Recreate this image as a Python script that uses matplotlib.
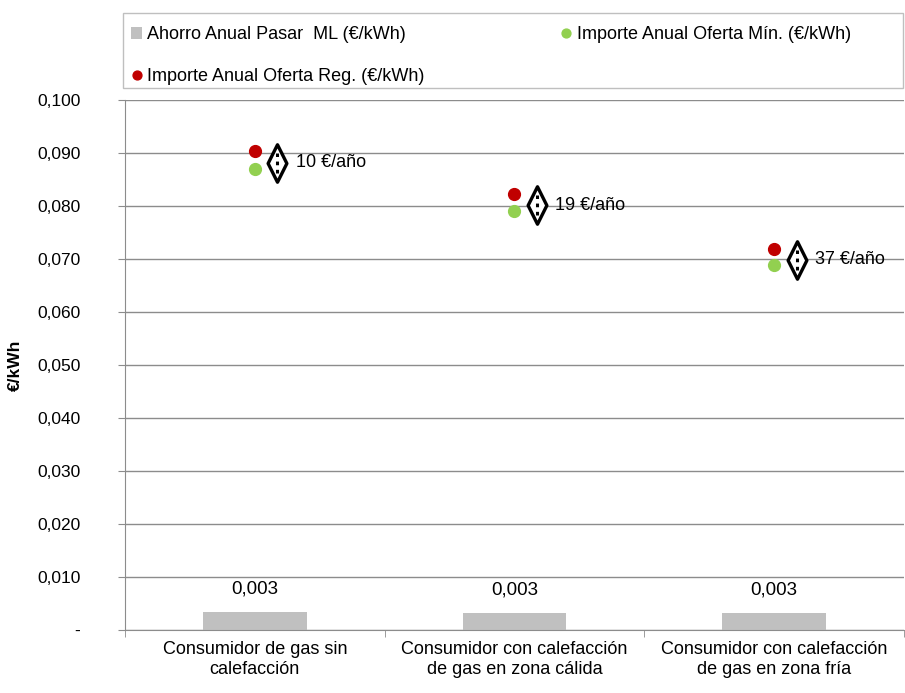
import numpy as np
import matplotlib.pyplot as plt
from matplotlib.path import Path
from matplotlib.patches import Rectangle

# data
categorias = ["Consumidor de gas sin\ncalefacción",
              "Consumidor con calefacción\nde gas en zona cálida",
              "Consumidor con calefacción\nde gas en zona fría"]
ahorro = [0.0034, 0.0032, 0.0032]
ahorro_txt = ["0,003", "0,003", "0,003"]
oferta_min = [0.0869, 0.0791, 0.0688]
oferta_reg = [0.0904, 0.0822, 0.0719]
ahorro_anual = ["10 €/año", "19 €/año", "37 €/año"]
y_ticks = [0.0, 0.01, 0.02, 0.03, 0.04, 0.05, 0.06, 0.07, 0.08, 0.09, 0.10]
y_labels = ["-", "0,010", "0,020", "0,030", "0,040", "0,050", "0,060",
            "0,070", "0,080", "0,090", "0,100"]

plt.rcParams['font.family'] = ['Liberation Sans', 'DejaVu Sans']
plt.rcParams['font.size'] = 11

fig = plt.figure(figsize=(9.05, 6.93), dpi=100)
ax = fig.add_axes([0.138, 0.091, 0.861, 0.765])

x = np.arange(len(categorias))

ax.set_axisbelow(True)
ax.yaxis.grid(True, color="#8c8c8c", linewidth=1)

ax.bar(x, ahorro, width=0.4, color="#c0c0c0", zorder=2,
       label="Ahorro Anual Pasar  ML (€/kWh)")
for xi, h, t in zip(x, ahorro, ahorro_txt):
    ax.text(xi, h + 0.0027, t, ha="center", va="bottom", fontsize=13.5)

ax.plot(x, oferta_min, "o", color="#92d050", markersize=8.5, zorder=4,
        linestyle="none", label="Importe Anual Oferta Mín. (€/kWh)")
ax.plot(x, oferta_reg, "o", color="#c00000", markersize=8.5, zorder=4,
        linestyle="none", label="Importe Anual Oferta Reg. (€/kWh)")

# diamond markers with dotted line showing the difference
diamond = Path([(0, 1), (0.5, 0), (0, -1), (-0.5, 0), (0, 1)],
               [Path.MOVETO, Path.LINETO, Path.LINETO, Path.LINETO, Path.CLOSEPOLY])
xd = x + 0.087
mid = [(a + b) / 2 - 0.0005 for a, b in zip(oferta_min, oferta_reg)]
ax.plot(xd, mid, linestyle="none", marker=diamond, markersize=27,
        markerfacecolor="white", markeredgecolor="black", markeredgewidth=2.4, zorder=5)
ax.vlines(xd, [m - 0.0019 for m in mid], [m + 0.0019 for m in mid], colors="black",
          linestyles=(0, (1.2, 1.5)), linewidth=2.2, zorder=6)
for xi, yi, t in zip(xd, mid, ahorro_anual):
    ax.text(xi + 0.07, yi, t, ha="left", va="center", fontsize=13)

ax.set_xlim(-0.5, 2.5)
ax.set_ylim(0, 0.1)
ax.set_yticks(y_ticks)
ax.set_yticklabels(y_labels, fontsize=12.5)
ax.set_xticks(x)
ax.set_xticklabels(categorias, fontsize=13)
ax.tick_params(axis="x", length=0, pad=8)
ax.set_xticks([-0.5, 0.5, 1.5, 2.5], minor=True)
ax.tick_params(axis="x", which="minor", length=5, color="#8c8c8c", direction="out")
ax.tick_params(axis="y", length=5, color="#8c8c8c", direction="out", pad=27)
ax.set_ylabel("€/kWh", fontweight="bold", fontsize=12.5)
ax.yaxis.set_label_coords(-0.131, 0.5)

for s in ["top", "right"]:
    ax.spines[s].set_visible(False)
for s in ["left", "bottom"]:
    ax.spines[s].set_color("#8c8c8c")

# legend box
fig.patches.append(Rectangle((0.136, 0.873), 0.862, 0.108, transform=fig.transFigure,
                             facecolor="white", edgecolor="#bfbfbf", linewidth=1, zorder=0))

handles, labels = ax.get_legend_handles_labels()
lab_order = ["Ahorro Anual Pasar  ML (€/kWh)",
             "Importe Anual Oferta Reg. (€/kWh)",
             "Importe Anual Oferta Mín. (€/kWh)"]
order = [labels.index(l) for l in lab_order]
leg = fig.legend([handles[i] for i in order], [labels[i] for i in order],
                 loc="upper left", bbox_to_anchor=(0.139, 0.970),
                 ncol=2, frameon=False, fontsize=13, handlelength=0.6,
                 handletextpad=0.3, borderpad=0.3, labelspacing=1.4,
                 columnspacing=7.5, markerscale=0.75, borderaxespad=0)

fig.savefig("out.png", dpi=100)
